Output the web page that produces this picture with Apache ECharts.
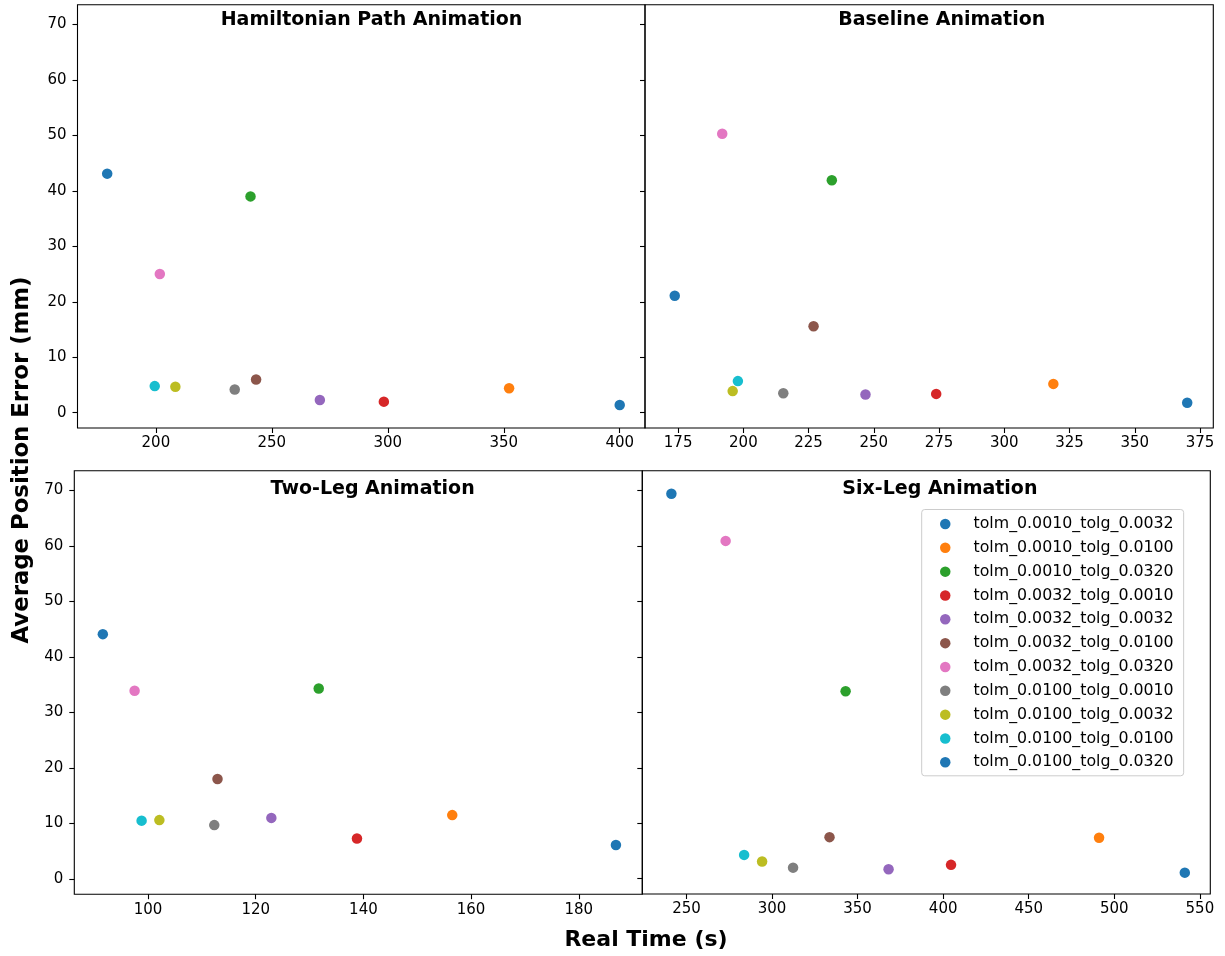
<!DOCTYPE html>
<html>
<head>
<meta charset="utf-8">
<script src="https://cdn.jsdelivr.net/npm/echarts@6/dist/echarts.min.js"></script>
<style>
  html, body { margin: 0; padding: 0; background: #ffffff; }
  #chart { width: 1225px; height: 956px; }
</style>
</head>
<body>
<div id="chart"></div>
<script>
// Solver tolerance settings (one scatter series per setting)
const seriesNames = [
  'tolm_0.0010_tolg_0.0032', 'tolm_0.0010_tolg_0.0100', 'tolm_0.0010_tolg_0.0320',
  'tolm_0.0032_tolg_0.0010', 'tolm_0.0032_tolg_0.0032', 'tolm_0.0032_tolg_0.0100',
  'tolm_0.0032_tolg_0.0320', 'tolm_0.0100_tolg_0.0010', 'tolm_0.0100_tolg_0.0032',
  'tolm_0.0100_tolg_0.0100', 'tolm_0.0100_tolg_0.0320'
];
const seriesColors = [
  '#1f77b4', '#ff7f0e', '#2ca02c', '#d62728', '#9467bd', '#8c564b',
  '#e377c2', '#7f7f7f', '#bcbd22', '#17becf', '#1f77b4'
];

const panelTitles = ['Hamiltonian Path Animation', 'Baseline Animation', 'Two-Leg Animation', 'Six-Leg Animation'];

// Real time (s) and average position error (mm), in seriesNames order
const hamiltonianTime  = [400.0, 352.3, 240.8, 298.3, 270.7, 243.2, 201.7, 234.0, 208.4, 199.5, 179.0];
const hamiltonianError = [1.4, 4.4, 39.0, 2.0, 2.3, 6.0, 25.0, 4.2, 4.7, 4.8, 43.1];

const baselineTime  = [370.1, 318.8, 233.9, 273.9, 246.8, 226.9, 191.9, 215.3, 195.9, 197.9, 173.7];
const baselineError = [1.8, 5.2, 41.9, 3.4, 3.3, 15.6, 50.3, 3.5, 3.9, 5.7, 21.1];

const twoLegTime  = [186.9, 156.5, 131.7, 138.8, 122.9, 112.9, 97.5, 112.3, 102.1, 98.8, 91.6];
const twoLegError = [6.1, 11.5, 34.3, 7.3, 11.0, 18.0, 33.9, 9.7, 10.6, 10.5, 44.1];

const sixLegTime  = [541.2, 491.1, 343.0, 404.6, 368.1, 333.6, 272.9, 312.3, 294.2, 283.7, 241.2];
const sixLegError = [1.1, 7.4, 33.8, 2.5, 1.7, 7.5, 60.9, 2.0, 3.1, 4.3, 69.4];

// Tick labels
const errorTicks = [0, 10, 20, 30, 40, 50, 60, 70];
const hamiltonianTicks = [200, 250, 300, 350, 400];
const baselineTicks = [175, 200, 225, 250, 275, 300, 325, 350, 375];
const twoLegTicks = [100, 120, 140, 160, 180];
const sixLegTicks = [250, 300, 350, 400, 450, 500, 550];

const panelTimes = [hamiltonianTime, baselineTime, twoLegTime, sixLegTime];
const panelErrors = [hamiltonianError, baselineError, twoLegError, sixLegError];
const panelTicks = [hamiltonianTicks, baselineTicks, twoLegTicks, sixLegTicks];

// Layout of the 2x2 panel grid
const panelBoxes = [
  { left: 77.5,  top: 4.7,   width: 567.5, height: 423.3 },
  { left: 645,   top: 4.7,   width: 568.3, height: 423.3 },
  { left: 74.3,  top: 470.7, width: 568,   height: 423.5 },
  { left: 642.3, top: 470.7, width: 568,   height: 423.3 }
];
const panelXRange = [[166.2, 410.9], [162.3, 380.1], [86.3, 191.8], [224.2, 556.1]];
const errorRange = [-2.75, 73.55];
const titleCenters = [[371.5, 20.5], [941.7, 20.5], [372.6, 488.6], [939.9, 488.6]];

const FONT = 'DejaVu Sans';

const grids = panelBoxes.map(b => ({
  left: b.left, top: b.top, width: b.width, height: b.height,
  show: true, borderColor: '#000', borderWidth: 1.1, backgroundColor: 'transparent',
  containLabel: false, outerBoundsMode: 'none'
}));

const xAxes = panelTicks.map((ticks, p) => ({
  type: 'value', gridIndex: p,
  min: panelXRange[p][0], max: panelXRange[p][1],
  axisLine: { show: false, onZero: false },
  splitLine: { show: false },
  axisTick: { show: true, length: 5, lineStyle: { color: '#000', width: 1.1 }, customValues: ticks },
  axisLabel: { show: true, margin: 8, fontFamily: FONT, fontSize: 15, color: '#000', customValues: ticks }
}));

const yAxes = panelBoxes.map((b, p) => ({
  type: 'value', gridIndex: p,
  min: errorRange[0], max: errorRange[1],
  axisLine: { show: false, onZero: false },
  splitLine: { show: false },
  axisTick: { show: true, length: 5, lineStyle: { color: '#000', width: 1.1 }, customValues: errorTicks },
  axisLabel: { show: p % 2 === 0, margin: 11, fontFamily: FONT, fontSize: 15, color: '#000', customValues: errorTicks }
}));

const series = [];
for (let p = 0; p < 4; p++) {
  for (let i = 0; i < seriesNames.length; i++) {
    series.push({
      type: 'scatter', name: seriesNames[i],
      xAxisIndex: p, yAxisIndex: p,
      data: [[panelTimes[p][i], panelErrors[p][i]]],
      symbol: 'circle', symbolSize: 10.5,
      itemStyle: { color: seriesColors[i], opacity: 1 },
      emphasis: { disabled: true },
      silent: true
    });
  }
}

const graphics = panelTitles.map((t, p) => ({
  type: 'text', x: titleCenters[p][0], y: titleCenters[p][1],
  style: { text: t, fontFamily: FONT, fontSize: 19, fontWeight: 'bold', fill: '#000',
           align: 'center', verticalAlign: 'middle' }
}));
graphics.push({
  type: 'text', x: 646, y: 940,
  style: { text: 'Real Time (s)', fontFamily: FONT, fontSize: 22, fontWeight: 'bold', fill: '#000',
           align: 'center', verticalAlign: 'middle' }
});
graphics.push({
  type: 'text', x: 22, y: 460, rotation: Math.PI / 2,
  style: { text: 'Average Position Error (mm)', fontFamily: FONT, fontSize: 22.8, fontWeight: 'bold', fill: '#000',
           align: 'center', verticalAlign: 'middle' }
});

const chart = echarts.init(document.getElementById('chart'), null, { renderer: 'canvas' });
chart.setOption({
  backgroundColor: '#ffffff',
  animation: false,
  grid: grids,
  xAxis: xAxes,
  yAxis: yAxes,
  legend: {
    orient: 'vertical', left: 921.7, top: 509.5,
    padding: [5.5, 10, 4.5, 18.3],
    itemWidth: 10.5, itemHeight: 10.5, itemGap: 5.83,
    icon: 'circle',
    borderColor: '#cccccc', borderWidth: 1, borderRadius: 3,
    backgroundColor: 'rgba(255,255,255,0.8)',
    selectedMode: false,
    textStyle: { fontFamily: FONT, fontSize: 15.8, color: '#000', lineHeight: 18, padding: [0, 0, 0, 18] },
    data: seriesNames
  },
  graphic: graphics,
  series: series
});
</script>
</body>
</html>
